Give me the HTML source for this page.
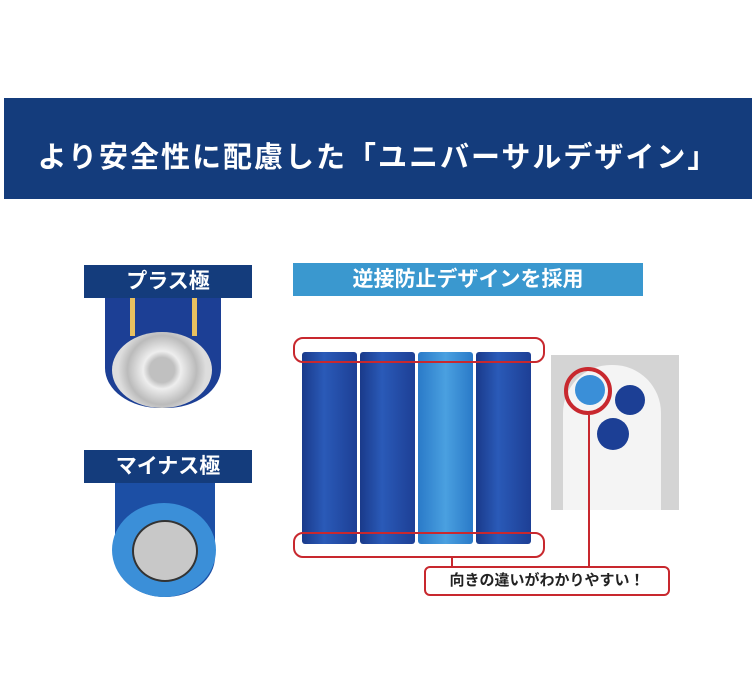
<!DOCTYPE html>
<html><head><meta charset="utf-8"><style>
body{margin:0;width:756px;height:699px;background:#fff;position:relative;overflow:hidden;font-family:"Liberation Sans","Noto Sans CJK JP",sans-serif}
.a{position:absolute}
.bat{position:absolute;top:352px;height:192px;width:55px;background:linear-gradient(90deg,#1a3a8a,#2a5ab8 40%,#1d3f95);border-radius:3px}
</style></head><body>
<div class="a" style="left:4px;top:98px;width:748px;height:101px;background:#143c7c"></div>
<div class="a" style="left:4px;top:134px;width:748px;text-align:center;color:#fff;font-size:29px;font-weight:bold;letter-spacing:2px">より安全性に配慮した「ユニバーサルデザイン」</div>

<div class="a" style="left:105px;top:296px;width:116px;height:112px;background:#1c3f95;border-radius:0 0 55px 55px/0 0 40px 40px"></div>
<div class="a" style="left:130px;top:296px;width:5px;height:40px;background:#e8c060"></div>
<div class="a" style="left:192px;top:296px;width:5px;height:40px;background:#e8c060"></div>
<div class="a" style="left:112px;top:332px;width:100px;height:76px;border-radius:50%;background:radial-gradient(circle,#c0c0c0 20%,#eee 30%,#bbb 55%,#ddd 70%)"></div>
<div class="a" style="left:84px;top:265px;width:168px;height:33px;background:#143c7c;color:#fff;font-size:21px;font-weight:bold;text-align:center;line-height:33px">プラス極</div>

<div class="a" style="left:115px;top:483px;width:100px;height:114px;background:#1c4fa5;border-radius:0 0 50px 50px/0 0 40px 40px"></div>
<div class="a" style="left:112px;top:503px;width:104px;height:94px;border-radius:50%;background:#3b8fd8"></div>
<div class="a" style="left:132px;top:520px;width:62px;height:58px;border-radius:50%;background:#c8c8c8;border:2px solid #333"></div>
<div class="a" style="left:84px;top:450px;width:168px;height:33px;background:#143c7c;color:#fff;font-size:21px;font-weight:bold;text-align:center;line-height:33px">マイナス極</div>

<div class="a" style="left:293px;top:263px;width:350px;height:33px;background:#3a98cf;color:#fff;font-size:21px;font-weight:bold;text-align:center;line-height:33px">逆接防止デザインを採用</div>

<div class="bat" style="left:302px"></div>
<div class="bat" style="left:360px"></div>
<div class="bat" style="left:418px;background:linear-gradient(90deg,#2a7ac8,#4aa0e0 50%,#2a7ac8)"></div>
<div class="bat" style="left:476px"></div>
<div class="a" style="left:293px;top:337px;width:248px;height:22px;border:2px solid #c8282e;border-radius:10px"></div>
<div class="a" style="left:293px;top:532px;width:248px;height:22px;border:2px solid #c8282e;border-radius:10px"></div>
<div class="a" style="left:451px;top:556px;width:2px;height:12px;background:#c8282e"></div>

<div class="a" style="left:551px;top:355px;width:128px;height:155px;background:#d4d4d4"></div>
<div class="a" style="left:563px;top:365px;width:98px;height:145px;background:#f4f4f4;border-radius:48px 48px 0 0"></div>
<div class="a" style="left:575px;top:375px;width:30px;height:30px;border-radius:50%;background:#3a8fd8"></div>
<div class="a" style="left:615px;top:385px;width:30px;height:30px;border-radius:50%;background:#1c3f95"></div>
<div class="a" style="left:597px;top:418px;width:32px;height:32px;border-radius:50%;background:#1c3f95"></div>
<div class="a" style="left:564px;top:367px;width:40px;height:40px;border:4px solid #c8282e;border-radius:50%"></div>
<div class="a" style="left:588px;top:415px;width:2px;height:152px;background:#c8282e"></div>

<div class="a" style="left:424px;top:566px;width:242px;height:26px;border:2px solid #c8282e;border-radius:6px;font-size:15px;font-weight:bold;text-align:center;line-height:26px;color:#222">向きの違いがわかりやすい！</div>
</body></html>
